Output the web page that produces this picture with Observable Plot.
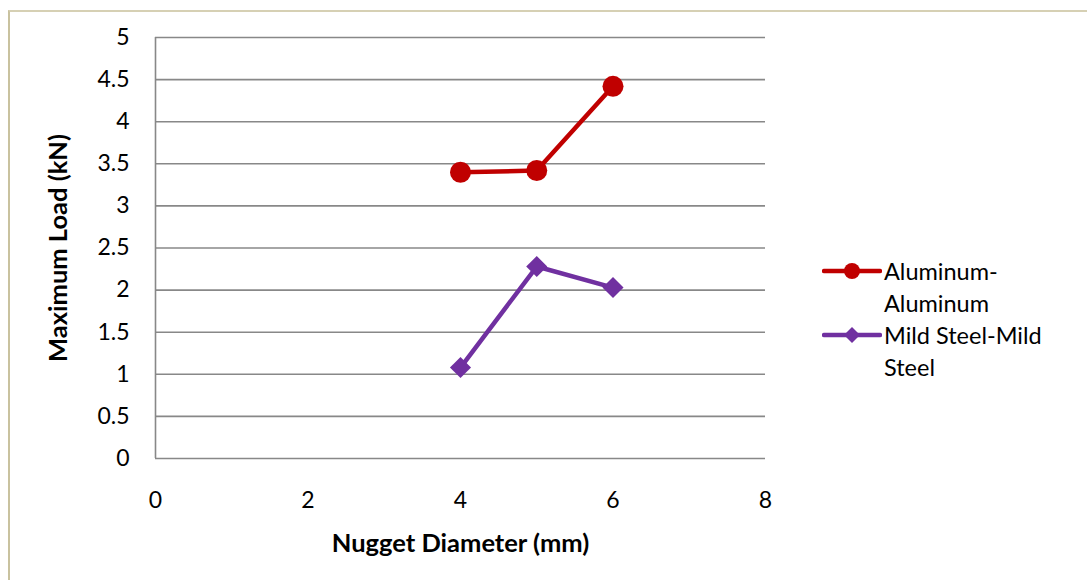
<!DOCTYPE html>
<html>
<head>
<meta charset="utf-8">
<script src="https://cdn.jsdelivr.net/npm/d3@7"></script>
<script src="https://cdn.jsdelivr.net/npm/@observablehq/plot@0.6"></script>
<style>
  html, body { margin: 0; padding: 0; background: #fff; }
  #wrap { position: relative; width: 1087px; height: 580px; overflow: hidden; }
  #frame { position: absolute; left: 8px; top: 10px; width: 1100px; height: 600px;
           border-left: 2px solid #c9c29f; border-top: 2px solid #d6d0b4; box-sizing: border-box; }
  #legend { position: absolute; left: 822px; top: 255px; font-family: Lato, "Open Sans", sans-serif;
            font-size: 23.5px; color: #000; line-height: 32px; }
  .item { display: flex; align-items: flex-start; }
  .item svg { flex: none; margin-top: 6px; margin-right: 2px; }
</style>
</head>
<body>
<div id="wrap">
  <div id="frame"></div>
  <div id="chart"></div>
  <div id="legend"></div>
</div>
<script>
// Nugget diameter (mm) against maximum load (kN) for two joint types
const diameters = [4, 5, 6];
const aluminumLoad = [3.40, 3.42, 4.42];
const steelLoad = [1.08, 2.28, 2.03];
const seriesNames = ["Aluminum-Aluminum", "Mild Steel-Mild Steel"];
const seriesColors = ["#c00000", "#7030a0"];
const xTicks = [0, 2, 4, 6, 8];
const yTicks = [0, 0.5, 1, 1.5, 2, 2.5, 3, 3.5, 4, 4.5, 5];

const aluminum = diameters.map((d, i) => ({x: d, y: aluminumLoad[i]}));
const steel = diameters.map((d, i) => ({x: d, y: steelLoad[i]}));
const gridColor = "#888888";
const font = "Lato, 'Open Sans', sans-serif";
const tickFont = 23;

const chart = Plot.plot({
  width: 1087,
  height: 580,
  marginLeft: 155,
  marginRight: 322,
  marginTop: 37,
  marginBottom: 122,
  style: {fontFamily: font, color: "#000", background: "transparent", overflow: "visible"},
  x: {domain: [0, 8], axis: null},
  y: {domain: [0, 5], axis: null},
  marks: [
    Plot.ruleY(yTicks, {stroke: gridColor, strokeWidth: 1.6}),
    Plot.ruleX([0], {stroke: gridColor, strokeWidth: 1.6}),
    // tick labels, drawn as text so their size is explicit
    Plot.text(yTicks, {y: d => d, frameAnchor: "left", dx: -26, textAnchor: "end", text: d => String(d), fontSize: tickFont, fill: "#000"}),
    Plot.text(xTicks, {x: d => d, frameAnchor: "bottom", dy: 49, text: d => String(d), fontSize: tickFont, fill: "#000"}),
    Plot.line(aluminum, {x: "x", y: "y", stroke: seriesColors[0], strokeWidth: 4.5}),
    Plot.dot(aluminum, {x: "x", y: "y", r: 10.5, fill: seriesColors[0], symbol: "circle"}),
    Plot.line(steel, {x: "x", y: "y", stroke: seriesColors[1], strokeWidth: 4.5}),
    Plot.dot(steel, {x: "x", y: "y", r: 9.5, fill: seriesColors[1], symbol: "diamond2"}),
    Plot.text(["Nugget Diameter (mm)"], {frameAnchor: "bottom", dy: 93, fontSize: 25.5, fontWeight: "bold", fill: "#000"}),
    Plot.text(["Maximum Load (kN)"], {frameAnchor: "left", dx: -97, rotate: -90, textAnchor: "middle", fontSize: 25.5, fontWeight: "bold", fill: "#000"})
  ]
});
document.getElementById("chart").append(chart);

// Legend entries: line with marker, wrapped label
const legend = d3.select("#legend");
const labels = [["Aluminum-", "Aluminum"], ["Mild Steel-Mild", "Steel"]];
labels.forEach((lines, i) => {
  const item = legend.append("div").attr("class", "item");
  const svg = item.append("svg").attr("width", 60).attr("height", 20);
  svg.append("line").attr("x1", 2).attr("x2", 58).attr("y1", 10).attr("y2", 10)
    .attr("stroke", seriesColors[i]).attr("stroke-width", 4.5).attr("stroke-linecap", "round");
  if (i === 0) {
    svg.append("circle").attr("cx", 30).attr("cy", 10).attr("r", 8).attr("fill", seriesColors[i]);
  } else {
    svg.append("path").attr("d", "M30,2L38,10L30,18L22,10Z").attr("fill", seriesColors[i]);
  }
  item.append("div").html(lines.join("<br>"));
});
</script>
</body>
</html>
